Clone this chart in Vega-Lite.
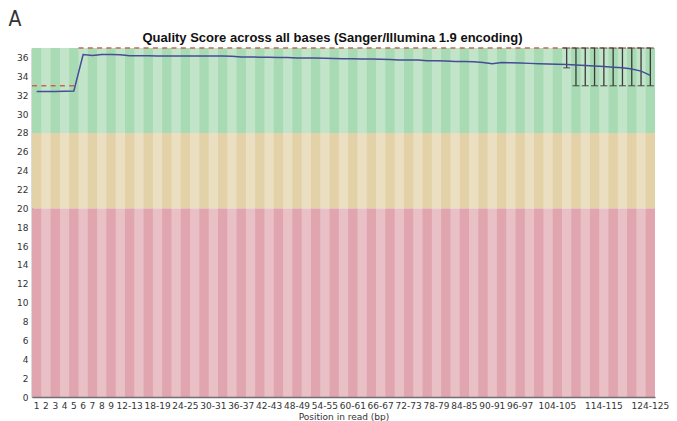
{
  "$schema": "https://vega.github.io/schema/vega-lite/v6.json",
  "width": 623,
  "height": 349,
  "autosize": {"type": "none"},
  "padding": {"left": 32, "top": 48, "right": 22, "bottom": 24},
  "background": "white",
  "title": {
    "text": "Quality Score across all bases (Sanger/Illumina 1.9 encoding)",
    "font": "Liberation Sans, Arial, sans-serif",
    "fontSize": 13,
    "fontWeight": "bold",
    "color": "#111111",
    "offset": 3,
    "dy": 40,
    "dx": -11
  },
  "config": {
    "view": {"stroke": null},
    "axis": {
      "labelFont": "DejaVu Sans",
      "labelFontSize": 9,
      "labelColor": "#333333",
      "labelOverlap": false,
      "ticks": false,
      "grid": false,
      "domainColor": "#707070",
      "domainWidth": 1.5
    }
  },
  "datasets": {
    "zones": [
      {"zone": "poor", "lo": 0, "hi": 20},
      {"zone": "ok", "lo": 20, "hi": 28},
      {"zone": "good", "lo": 28, "hi": 37}
    ],
    "bins": [
      {"pos": "1", "idx": 0, "mean": 32.4, "median": 33, "p10": null, "p90": null},
      {"pos": "2", "idx": 1, "mean": 32.4, "median": 33, "p10": null, "p90": null},
      {"pos": "3", "idx": 2, "mean": 32.4, "median": 33, "p10": null, "p90": null},
      {"pos": "4", "idx": 3, "mean": 32.42, "median": 33, "p10": null, "p90": null},
      {"pos": "5", "idx": 4, "mean": 32.45, "median": 33, "p10": null, "p90": null},
      {"pos": "6", "idx": 5, "mean": 36.3, "median": 37, "p10": null, "p90": null},
      {"pos": "7", "idx": 6, "mean": 36.2, "median": 37, "p10": null, "p90": null},
      {"pos": "8", "idx": 7, "mean": 36.3, "median": 37, "p10": null, "p90": null},
      {"pos": "9", "idx": 8, "mean": 36.3, "median": 37, "p10": null, "p90": null},
      {"pos": "10-11", "idx": 9, "mean": 36.28, "median": 37, "p10": null, "p90": null},
      {"pos": "12-13", "idx": 10, "mean": 36.18, "median": 37, "p10": null, "p90": null},
      {"pos": "14-15", "idx": 11, "mean": 36.17, "median": 37, "p10": null, "p90": null},
      {"pos": "16-17", "idx": 12, "mean": 36.17, "median": 37, "p10": null, "p90": null},
      {"pos": "18-19", "idx": 13, "mean": 36.16, "median": 37, "p10": null, "p90": null},
      {"pos": "20-21", "idx": 14, "mean": 36.16, "median": 37, "p10": null, "p90": null},
      {"pos": "22-23", "idx": 15, "mean": 36.16, "median": 37, "p10": null, "p90": null},
      {"pos": "24-25", "idx": 16, "mean": 36.15, "median": 37, "p10": null, "p90": null},
      {"pos": "26-27", "idx": 17, "mean": 36.15, "median": 37, "p10": null, "p90": null},
      {"pos": "28-29", "idx": 18, "mean": 36.15, "median": 37, "p10": null, "p90": null},
      {"pos": "30-31", "idx": 19, "mean": 36.14, "median": 37, "p10": null, "p90": null},
      {"pos": "32-33", "idx": 20, "mean": 36.14, "median": 37, "p10": null, "p90": null},
      {"pos": "34-35", "idx": 21, "mean": 36.13, "median": 37, "p10": null, "p90": null},
      {"pos": "36-37", "idx": 22, "mean": 36.05, "median": 37, "p10": null, "p90": null},
      {"pos": "38-39", "idx": 23, "mean": 36.04, "median": 37, "p10": null, "p90": null},
      {"pos": "40-41", "idx": 24, "mean": 36.03, "median": 37, "p10": null, "p90": null},
      {"pos": "42-43", "idx": 25, "mean": 36.02, "median": 37, "p10": null, "p90": null},
      {"pos": "44-45", "idx": 26, "mean": 36.0, "median": 37, "p10": null, "p90": null},
      {"pos": "46-47", "idx": 27, "mean": 35.98, "median": 37, "p10": null, "p90": null},
      {"pos": "48-49", "idx": 28, "mean": 35.95, "median": 37, "p10": null, "p90": null},
      {"pos": "50-51", "idx": 29, "mean": 35.94, "median": 37, "p10": null, "p90": null},
      {"pos": "52-53", "idx": 30, "mean": 35.93, "median": 37, "p10": null, "p90": null},
      {"pos": "54-55", "idx": 31, "mean": 35.92, "median": 37, "p10": null, "p90": null},
      {"pos": "56-57", "idx": 32, "mean": 35.9, "median": 37, "p10": null, "p90": null},
      {"pos": "58-59", "idx": 33, "mean": 35.86, "median": 37, "p10": null, "p90": null},
      {"pos": "60-61", "idx": 34, "mean": 35.85, "median": 37, "p10": null, "p90": null},
      {"pos": "62-63", "idx": 35, "mean": 35.84, "median": 37, "p10": null, "p90": null},
      {"pos": "64-65", "idx": 36, "mean": 35.83, "median": 37, "p10": null, "p90": null},
      {"pos": "66-67", "idx": 37, "mean": 35.8, "median": 37, "p10": null, "p90": null},
      {"pos": "68-69", "idx": 38, "mean": 35.78, "median": 37, "p10": null, "p90": null},
      {"pos": "70-71", "idx": 39, "mean": 35.74, "median": 37, "p10": null, "p90": null},
      {"pos": "72-73", "idx": 40, "mean": 35.73, "median": 37, "p10": null, "p90": null},
      {"pos": "74-75", "idx": 41, "mean": 35.72, "median": 37, "p10": null, "p90": null},
      {"pos": "76-77", "idx": 42, "mean": 35.66, "median": 37, "p10": null, "p90": null},
      {"pos": "78-79", "idx": 43, "mean": 35.65, "median": 37, "p10": null, "p90": null},
      {"pos": "80-81", "idx": 44, "mean": 35.63, "median": 37, "p10": null, "p90": null},
      {"pos": "82-83", "idx": 45, "mean": 35.58, "median": 37, "p10": null, "p90": null},
      {"pos": "84-85", "idx": 46, "mean": 35.56, "median": 37, "p10": null, "p90": null},
      {"pos": "86-87", "idx": 47, "mean": 35.54, "median": 37, "p10": null, "p90": null},
      {"pos": "88-89", "idx": 48, "mean": 35.46, "median": 37, "p10": null, "p90": null},
      {"pos": "90-91", "idx": 49, "mean": 35.32, "median": 37, "p10": null, "p90": null},
      {"pos": "92-93", "idx": 50, "mean": 35.45, "median": 37, "p10": null, "p90": null},
      {"pos": "94-95", "idx": 51, "mean": 35.43, "median": 37, "p10": null, "p90": null},
      {"pos": "96-97", "idx": 52, "mean": 35.4, "median": 37, "p10": null, "p90": null},
      {"pos": "98-99", "idx": 53, "mean": 35.37, "median": 37, "p10": null, "p90": null},
      {"pos": "100-101", "idx": 54, "mean": 35.34, "median": 37, "p10": null, "p90": null},
      {"pos": "102-103", "idx": 55, "mean": 35.31, "median": 37, "p10": null, "p90": null},
      {"pos": "104-105", "idx": 56, "mean": 35.28, "median": 37, "p10": null, "p90": null},
      {"pos": "106-107", "idx": 57, "mean": 35.25, "median": 37, "p10": 34.9, "p90": 37},
      {"pos": "108-109", "idx": 58, "mean": 35.2, "median": 37, "p10": 33, "p90": 37},
      {"pos": "110-111", "idx": 59, "mean": 35.15, "median": 37, "p10": 33, "p90": 37},
      {"pos": "112-113", "idx": 60, "mean": 35.1, "median": 37, "p10": 33, "p90": 37},
      {"pos": "114-115", "idx": 61, "mean": 35.03, "median": 37, "p10": 33, "p90": 37},
      {"pos": "116-117", "idx": 62, "mean": 34.97, "median": 37, "p10": 33, "p90": 37},
      {"pos": "118-119", "idx": 63, "mean": 34.9, "median": 37, "p10": 33, "p90": 37},
      {"pos": "120-121", "idx": 64, "mean": 34.78, "median": 37, "p10": 33, "p90": 37},
      {"pos": "122-123", "idx": 65, "mean": 34.55, "median": 37, "p10": 33, "p90": 37},
      {"pos": "124-125", "idx": 66, "mean": 34.1, "median": 37, "p10": 33, "p90": 37}
    ]
  },
  "layer": [
    {
      "data": {"name": "zones"},
      "mark": {"type": "rect"},
      "encoding": {
        "y": {
          "field": "lo", "type": "quantitative", "title": "A",
          "scale": {"domain": [0, 37], "nice": false, "zero": true},
          "axis": {
            "values": [0, 2, 4, 6, 8, 10, 12, 14, 16, 18, 20, 22, 24, 26, 28, 30, 32, 34, 36],
            "labelOverlap": false,
            "labelPadding": 4,
            "titleAngle": 0,
            "titleX": -24,
            "titleY": -23,
            "titleAlign": "left",
            "titleBaseline": "alphabetic",
            "titleFont": "Liberation Sans Narrow, DejaVu Sans Condensed, DejaVu Sans, sans-serif",
            "titleFontSize": 21,
            "titleFontWeight": "normal",
            "titleColor": "#333333"
          }
        },
        "y2": {"field": "hi"},
        "color": {
          "field": "zone", "type": "nominal", "legend": null,
          "scale": {"domain": ["good", "ok", "poor"], "range": ["#a8dab4", "#e3d1a8", "#e0a5ae"]}
        }
      }
    },
    {
      "data": {"name": "bins"},
      "mark": {"type": "rect", "fill": "white"},
      "encoding": {
        "x": {
          "field": "pos", "type": "ordinal", "sort": null, "title": "Position in read (bp)",
          "scale": {"paddingInner": 0, "paddingOuter": 0},
          "axis": {
            "values": ["1", "2", "3", "4", "5", "6", "7", "8", "9", "12-13", "18-19", "24-25", "30-31", "36-37", "42-43", "48-49", "54-55", "60-61", "66-67", "72-73", "78-79", "84-85", "90-91", "96-97", "104-105", "114-115", "124-125"],
            "labelAngle": 0,
            "labelPadding": 4,
            "labelOverlap": false,
            "titleFont": "DejaVu Sans",
            "titleFontSize": 9,
            "titleFontWeight": "normal",
            "titleColor": "#333333",
            "titlePadding": 2
          }
        },
        "opacity": {"condition": {"test": "datum.idx % 2 == 1", "value": 0.3}, "value": 0}
      }
    },
    {
      "data": {"name": "bins"},
      "mark": {"type": "rule", "color": "#c9634f", "strokeWidth": 1.5, "strokeDash": [5, 4.3]},
      "encoding": {
        "x": {"field": "pos", "type": "ordinal", "sort": null, "bandPosition": 0, "title": "Position in read (bp)"},
        "x2": {"field": "pos", "bandPosition": 1},
        "y": {"field": "median", "type": "quantitative", "title": "A", "axis": {"values": [0, 2, 4, 6, 8, 10, 12, 14, 16, 18, 20, 22, 24, 26, 28, 30, 32, 34, 36], "labelOverlap": false}}
      }
    },
    {
      "data": {"name": "bins"},
      "transform": [{"filter": "datum.p10 != null"}],
      "layer": [
        {
          "mark": {"type": "rule", "color": "#3a3a3a", "strokeWidth": 1.3},
          "encoding": {
            "x": {"field": "pos", "type": "ordinal", "sort": null, "title": "Position in read (bp)"},
            "y": {"field": "p10", "type": "quantitative", "title": "A", "axis": {"values": [0, 2, 4, 6, 8, 10, 12, 14, 16, 18, 20, 22, 24, 26, 28, 30, 32, 34, 36], "labelOverlap": false}},
            "y2": {"field": "p90"}
          }
        },
        {
          "mark": {"type": "tick", "color": "#3a3a3a", "size": 7, "thickness": 1.3},
          "encoding": {
            "x": {"field": "pos", "type": "ordinal", "sort": null, "title": "Position in read (bp)"},
            "y": {"field": "p10", "type": "quantitative", "title": "A", "axis": {"values": [0, 2, 4, 6, 8, 10, 12, 14, 16, 18, 20, 22, 24, 26, 28, 30, 32, 34, 36], "labelOverlap": false}}
          }
        },
        {
          "mark": {"type": "tick", "color": "#3a3a3a", "size": 7, "thickness": 1.3},
          "encoding": {
            "x": {"field": "pos", "type": "ordinal", "sort": null, "title": "Position in read (bp)"},
            "y": {"field": "p90", "type": "quantitative", "title": "A", "axis": {"values": [0, 2, 4, 6, 8, 10, 12, 14, 16, 18, 20, 22, 24, 26, 28, 30, 32, 34, 36], "labelOverlap": false}}
          }
        }
      ]
    },
    {
      "data": {"name": "bins"},
      "mark": {"type": "line", "color": "#464c96", "strokeWidth": 1.5},
      "encoding": {
        "x": {"field": "pos", "type": "ordinal", "sort": null, "title": "Position in read (bp)"},
        "y": {"field": "mean", "type": "quantitative", "title": "A", "axis": {"values": [0, 2, 4, 6, 8, 10, 12, 14, 16, 18, 20, 22, 24, 26, 28, 30, 32, 34, 36], "labelOverlap": false}}
      }
    }
  ]
}
